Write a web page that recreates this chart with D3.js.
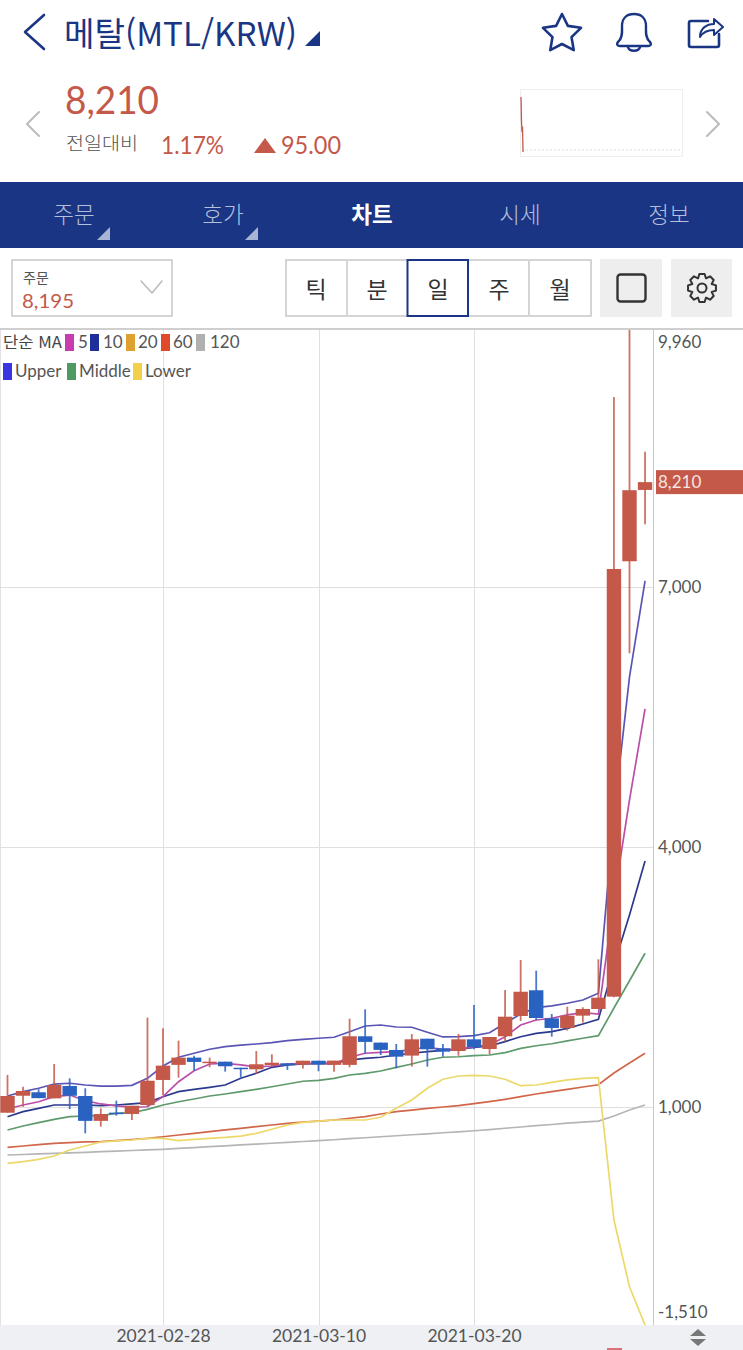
<!DOCTYPE html>
<html lang="ko"><head><meta charset="utf-8">
<script src="https://cdn.jsdelivr.net/npm/d3@7/dist/d3.min.js"></script>
<style>
html,body{margin:0;padding:0;background:#fff;overflow:hidden}
svg{display:block}
text{font-family:"Lato","Noto Sans CJK KR",sans-serif}
.kr{font-family:"Noto Sans CJK KR",sans-serif}
</style></head><body><div id="c"></div>
<script>
// ---- data ----
const startDate = "2021-02-18";
const dateTicks = ["2021-02-28","2021-03-10","2021-03-20"];
const priceTicks = [9960,7000,4000,1000,-1510];
const lastPrice = 8210;
const opens  = [934,1130,1170,1100,1242,1127,840,935,920,1023,1312,1486,1570,1512,1523,1453,1435,1485,1504,1489,1534,1486,1486,1816,1743,1658,1593,1788,1677,1646,1781,1669,1816,2050,2347,2023,1912,2054,2131,2273,7297,8120];
const closes = [1127,1185,1102,1254,1130,840,919,920,1015,1303,1477,1570,1520,1523,1470,1443,1493,1511,1481,1534,1489,1535,1816,1751,1659,1581,1781,1666,1639,1781,1689,1808,2042,2330,2027,1912,2054,2131,2261,7208,8117,8210];
const highs  = [1369,1234,1205,1496,1331,1216,985,1073,1015,2031,1908,1766,1590,1570,1523,1453,1646,1608,1504,1534,1534,1535,2019,2127,1743,1727,1842,1788,1727,1842,2177,1808,2350,2696,2573,2073,2158,2150,2704,9193,10100,8562];
const lows   = [934,1004,1102,1100,975,696,773,900,850,1004,1138,1339,1419,1458,1408,1343,1381,1466,1428,1443,1412,1408,1458,1620,1600,1447,1466,1466,1580,1592,1666,1608,1755,1992,2004,1812,1882,1974,2131,2265,6236,7724];
const upper  = [1127,1177,1216,1265,1274,1254,1242,1242,1250,1331,1473,1574,1620,1666,1696,1715,1727,1742,1765,1781,1793,1805,1869,1935,1946,1923,1920,1862,1808,1811,1823,1857,1966,2073,2146,2166,2197,2235,2312,4370,5962,7070];
const middle = [735,781,819,858,888,896,900,927,934,973,1023,1061,1092,1127,1150,1177,1204,1234,1265,1297,1308,1331,1369,1389,1415,1458,1496,1542,1574,1580,1592,1600,1627,1677,1707,1730,1762,1793,1823,2142,2457,2774];
const lower  = [350,369,396,435,504,550,596,608,619,639,639,611,627,639,650,665,696,743,792,823,838,850,850,850,881,985,1081,1216,1320,1358,1366,1358,1320,1246,1254,1285,1312,1331,1338,-304,-1074,-1516];
const ma5    = [977,1023,1061,1119,1138,1073,1035,1012,997,1003,1119,1292,1419,1496,1504,1485,1462,1473,1496,1504,1504,1500,1574,1620,1631,1638,1666,1689,1666,1666,1696,1715,1811,1946,2004,2024,2062,2088,2073,3389,4543,5593];
const ma10   = [888,946,985,1023,1023,1023,1015,1023,1035,1050,1119,1177,1204,1227,1254,1331,1389,1458,1485,1496,1504,1504,1542,1562,1574,1600,1620,1638,1654,1666,1689,1704,1754,1811,1850,1869,1908,1958,2012,2639,3216,3839];
const ma60   = [535,550,565,581,588,598,600,612,625,639,657,677,696,715,735,754,773,792,812,827,838,850,870,888,919,946,965,985,1000,1015,1038,1063,1089,1119,1150,1177,1204,1231,1257,1392,1508,1620];
const ma120  = [446,452,458,464,470,477,484,491,498,505,512,522,532,542,552,562,572,582,592,602,611,622,634,645,657,668,680,691,703,714,726,740,755,769,784,798,813,826,838,896,965,1023];
const maLegend = ["5","10","20","60","120"];
const bandLegend = ["Upper","Middle","Lower"];
const tabs = ["주문","호가","차트","시세","정보"];
const periods = ["틱","분","일","주","월"];
const sparkValues = [8210,5200,3900,4600,1500];

// ---- layout ----
const W=743,H=1350;
const svg=d3.select("#c").append("svg").attr("width",W).attr("height",H).attr("viewBox",`0 0 ${W} ${H}`);
const NAVY="#1a3583",RED="#c4594a",BLUE="#2a62c2",TXT="#555";
const parse=d3.utcParse("%Y-%m-%d");
const t0=parse(startDate);
const dates=opens.map((_,i)=>d3.utcDay.offset(t0,i));
const x=d3.scaleUtc().domain([parse("2021-02-28"),parse("2021-03-20")]).range([163,474]);
const y=d3.scaleLinear().domain([1000,7000]).range([1107,587]);
const plotTop=330,plotBottom=1325,plotRight=653;

// ---- header ----
const tx=(s,px,py,size,fill,opt={})=>svg.append("text").attr("x",px).attr("y",py).attr("font-size",size).attr("fill",fill)
  .attr("text-anchor",opt.anchor||"start").attr("font-weight",opt.weight||400).attr("class",opt.cls||null).text(s);
const stroke=(d,col,w)=>svg.append("path").attr("d",d).attr("fill","none").attr("stroke",col).attr("stroke-width",w).attr("stroke-linejoin","round").attr("stroke-linecap","round");
stroke("M44 15 L25 32 L44 49",NAVY,2.6);
tx("메탈(MTL/KRW)",64,46,33,NAVY,{cls:"kr",weight:400}).attr("textLength",233).attr("lengthAdjust","spacingAndGlyphs");
svg.append("path").attr("d","M320 31 V46 H305 Z").attr("fill",NAVY);
// star
const starR=20,star=d3.range(10).map(i=>{const r=i%2?starR*0.5:starR,a=-Math.PI/2+i*Math.PI/5;return [562+r*Math.cos(a),34+r*Math.sin(a)]});
svg.append("path").attr("d",d3.line()(star)+"Z").attr("fill","none").attr("stroke",NAVY).attr("stroke-width",2.6).attr("stroke-linejoin","round");
// bell
stroke("M618 42 C623 38 622 31 622 26 C622 18 627 14 634 14 C641 14 646 18 646 26 C646 31 645 38 650 42 C652 45 650 46 648 46 H620 C618 46 616 45 618 42 Z",NAVY,2.4);
stroke("M628 47 C629 52 639 52 640 47",NAVY,2.4);
// share
stroke("M708 21 H691 Q689 21 689 23 V45 Q689 47 691 47 H717 Q719 47 719 45 V34",NAVY,2.6);
stroke("M700 37 C700 28 707 24 714 24 L714 19 L723 27 L714 35 L714 30 C708 30 703 32 700 37 Z",NAVY,2);

tx("8,210",65,114,39,RED,{}).attr("textLength",94).attr("lengthAdjust","spacingAndGlyphs");
tx("전일대비",66,150,18,"#555",{cls:"kr",weight:300}).attr("textLength",72).attr("lengthAdjust","spacingAndGlyphs");
tx("1.17%",161,154,25,RED).attr("textLength",63).attr("lengthAdjust","spacingAndGlyphs");
svg.append("path").attr("d","M254 153 L265 138 L276 153 Z").attr("fill",RED);
tx("95.00",281,154,25,RED).attr("textLength",60).attr("lengthAdjust","spacingAndGlyphs");
stroke("M39 112 L27 124 L39 136","#bbb",2);
stroke("M707 112 L719 124 L707 136","#bbb",2);
// mini chart
svg.append("rect").attr("x",520.5).attr("y",89.5).attr("width",162).attr("height",67).attr("fill","#fff").attr("stroke","#eee");
svg.append("line").attr("x1",522).attr("x2",682).attr("y1",150).attr("y2",150).attr("stroke","#ddd").attr("stroke-dasharray","2 2");
const sx=d3.scaleLinear().domain([0,4]).range([521,523]),sy=d3.scaleLinear().domain([1500,8210]).range([152,97]);
svg.append("path").attr("d",d3.line().x((d,i)=>sx(i)).y(d=>sy(d))(sparkValues)).attr("fill","none").attr("stroke",RED).attr("stroke-width",1.3);

// ---- tabs ----
svg.append("rect").attr("x",0).attr("y",182).attr("width",W).attr("height",66).attr("fill",NAVY);
tabs.forEach((t,i)=>{
  tx(t,[74,223,372,520,669][i],223,22.5,i==2?"#fff":"#b4bfdb",{anchor:"middle",cls:"kr",weight:i==2?700:300});
});
[[110,227],[258,227]].forEach(p=>svg.append("path").attr("d",`M${p[0]} ${p[1]} V${p[1]+13} H${p[0]-13} Z`).attr("fill","#a9b5d6"));

// ---- selector row ----
svg.append("rect").attr("x",12).attr("y",260).attr("width",160).attr("height",56).attr("fill","#fff").attr("stroke","#d5d5d5").attr("stroke-width",2);
tx("주문",23,283,14,"#555",{cls:"kr"});
tx("8,195",22,308,20,RED).attr("textLength",52).attr("lengthAdjust","spacingAndGlyphs");
stroke("M141 281 L152 293 L162 281","#bbb",1.6);
svg.append("rect").attr("x",286).attr("y",260).attr("width",305).attr("height",56).attr("fill","#fff").attr("stroke","#d5d5d5").attr("stroke-width",2);
periods.forEach((p,i)=>{
  tx(p,316+i*61,298,23,"#333",{anchor:"middle",cls:"kr"});
});
[347,529].forEach(px=>svg.append("line").attr("x1",px).attr("x2",px).attr("y1",260).attr("y2",316).attr("stroke","#d5d5d5").attr("stroke-width",2));
svg.append("rect").attr("x",407.5).attr("y",260).attr("width",60.5).attr("height",56).attr("fill","none").attr("stroke",NAVY).attr("stroke-width",2);
svg.append("rect").attr("x",600).attr("y",259).attr("width",62).attr("height",58).attr("fill","#eeeeee");
svg.append("rect").attr("x",671).attr("y",259).attr("width",61).attr("height",58).attr("fill","#eeeeee");
svg.append("rect").attr("x",617.5).attr("y",274.5).attr("width",28).attr("height",27).attr("rx",3).attr("fill","none").attr("stroke","#333").attr("stroke-width",2.4);
const gear=[];
d3.range(8).forEach(i=>{const a=i*Math.PI/4-Math.PI/2;
  [[-0.62,10.5],[-0.3,14.2],[0.3,14.2],[0.62,10.5]].forEach(q=>gear.push([702+q[1]*Math.cos(a+q[0]*0.62),288+q[1]*Math.sin(a+q[0]*0.62)]));});
svg.append("path").attr("d",d3.line().curve(d3.curveLinearClosed)(gear)).attr("fill","none").attr("stroke","#333").attr("stroke-width",2).attr("stroke-linejoin","round");
svg.append("circle").attr("cx",702).attr("cy",288).attr("r",4.5).attr("fill","none").attr("stroke","#333").attr("stroke-width",2);

// ---- plot frame and grid ----
svg.append("rect").attr("x",0).attr("y",328).attr("width",W).attr("height",2).attr("fill","#cfcfcf");
svg.append("rect").attr("x",0).attr("y",330).attr("width",1).attr("height",995).attr("fill","#e2e2e2");
const grid=svg.append("g").attr("stroke","#dfdfdf").attr("stroke-width",1);
dateTicks.forEach(d=>grid.append("line").attr("x1",Math.round(x(parse(d)))+.5).attr("x2",Math.round(x(parse(d)))+.5).attr("y1",plotTop).attr("y2",plotBottom));
priceTicks.slice(1,4).forEach(v=>grid.append("line").attr("x1",0).attr("x2",plotRight).attr("y1",Math.round(y(v))+.5).attr("y2",Math.round(y(v))+.5));

// ---- series ----
svg.append("defs").append("clipPath").attr("id","plot").append("rect").attr("x",0).attr("y",plotTop).attr("width",plotRight).attr("height",plotBottom-plotTop);
const g=svg.append("g").attr("clip-path","url(#plot)");
const line=d3.line().x((d,i)=>x(dates[i])).y(d=>y(d));
const series=[[ma120,"#b5b5b5"],[ma60,"#d2664a"],[lower,"#ecd96a"],[middle,"#5f9a6c"],[upper,"#5a55b4"],[ma10,"#2c3a8e"],[ma5,"#bb4fa8"]];
g.selectAll(".s").data(series).join("path").attr("class","s").attr("d",d=>line(d[0])).attr("fill","none").attr("stroke",d=>d[1]).attr("stroke-width",1.7);
const idx=d3.range(opens.length);
const col=i=>closes[i]>=opens[i]?RED:BLUE;
g.selectAll(".w").data(idx).join("line").attr("class","w").attr("x1",i=>x(dates[i])).attr("x2",i=>x(dates[i]))
  .attr("y1",i=>y(highs[i])).attr("y2",i=>y(lows[i])).attr("stroke",i=>col(i)).attr("stroke-opacity",.85).attr("stroke-width",1.8);
g.selectAll(".b").data(idx).join("rect").attr("class","b").attr("x",i=>x(dates[i])-7.2).attr("width",14.4)
  .attr("y",i=>y(Math.max(opens[i],closes[i]))).attr("height",i=>Math.max(1.5,Math.abs(y(opens[i])-y(closes[i])))).attr("fill",i=>col(i));

// ---- axes ----
const yAxis=d3.axisRight(y).tickValues(priceTicks).tickSize(0).tickPadding(5).tickFormat(d=>d3.format(",")(d).replace("−","-"));
const ya=svg.append("g").attr("transform",`translate(${plotRight},0)`).call(yAxis);
ya.select(".domain").remove();
ya.append("line").attr("x1",0.5).attr("x2",0.5).attr("y1",plotTop).attr("y2",plotBottom).attr("stroke","#c8c8c8");
ya.selectAll("text").attr("font-size",17).attr("fill",TXT).attr("font-family","Lato")
  .attr("dy",d=>d==9960?"0.98em":d==-1510?"-0.4em":"0.32em");
svg.append("rect").attr("x",0).attr("y",plotBottom).attr("width",W).attr("height",H-plotBottom).attr("fill","#eef0f4");
const xa=svg.append("g").attr("transform",`translate(0,${plotBottom})`).call(d3.axisBottom(x).tickValues(dateTicks.map(parse)).tickSize(0).tickPadding(5).tickFormat(d3.utcFormat("%Y-%m-%d")));
xa.select(".domain").remove();
xa.selectAll("text").attr("font-size",17.5).attr("fill",TXT).attr("font-family","Lato");
svg.append("path").attr("d","M698 1329 L706 1336 H690 Z M698 1346 L706 1339 H690 Z").attr("fill","#777");
svg.append("rect").attr("x",607).attr("y",1348).attr("width",15).attr("height",2).attr("fill","#d9707a");

// price tag
svg.append("rect").attr("x",656).attr("y",y(lastPrice)-12).attr("width",87).attr("height",24).attr("fill",RED);
tx(d3.format(",")(lastPrice),658,y(lastPrice)+6,17,"#f6e5e0");

// ---- legends ----
tx("단순 MA",3,348,16,"#444",{cls:"kr",weight:400}).attr("textLength",59).attr("lengthAdjust","spacingAndGlyphs");
const mac=["#c83cb0","#1f2f9a","#e0a030","#e0492a","#b0b0b0"],mx=[65,90,126,161,196],mtx=[78,103,138,173,210];
maLegend.forEach((m,i)=>{svg.append("rect").attr("x",mx[i]).attr("y",334).attr("width",9).attr("height",17).attr("fill",mac[i]);tx(m,mtx[i],348,17,TXT);});
const bc=["#3a35e0","#4f9a60","#f3d04a"],bx=[3,67,133],btx=[15,79,145];
bandLegend.forEach((m,i)=>{svg.append("rect").attr("x",bx[i]).attr("y",363).attr("width",9).attr("height",17).attr("fill",bc[i]);tx(m,btx[i],377,17,TXT);});
</script></body></html>
